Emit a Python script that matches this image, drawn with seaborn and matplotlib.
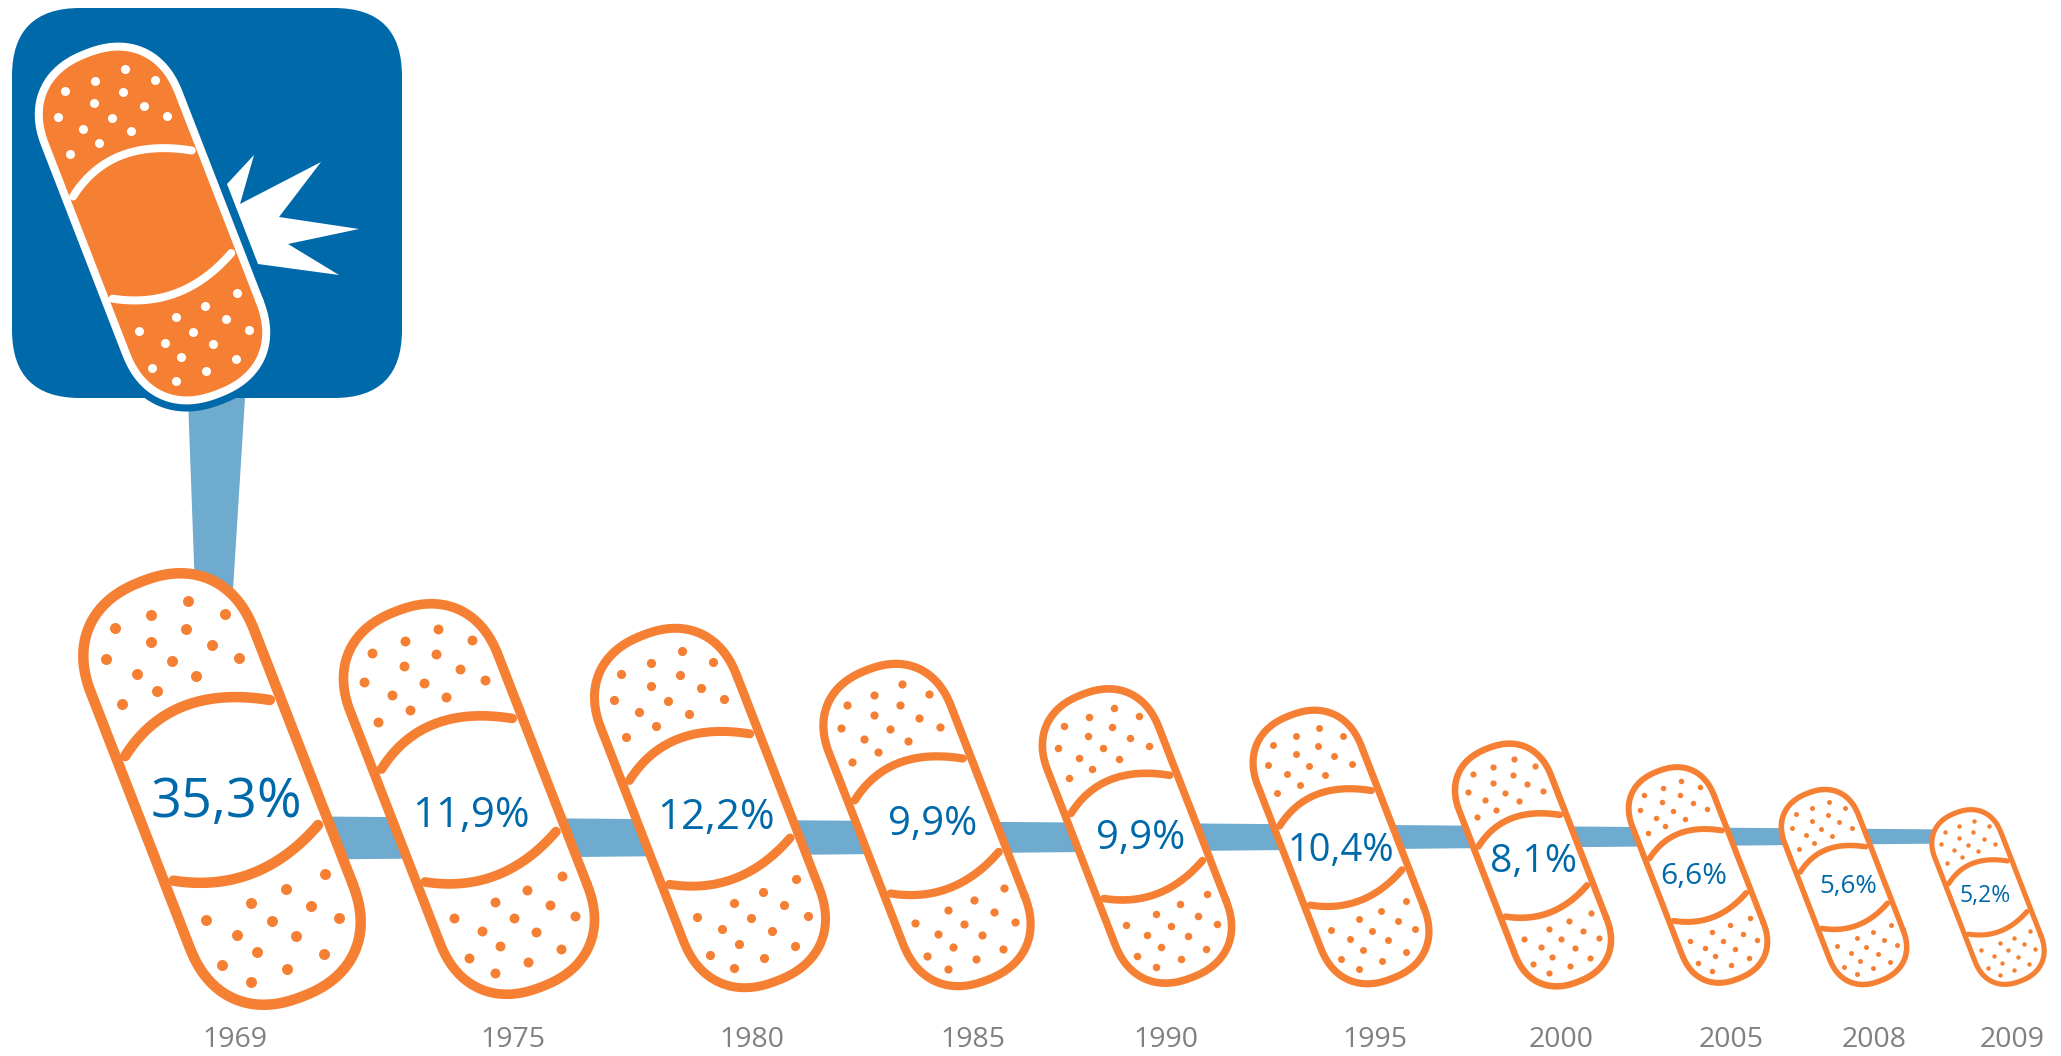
import numpy as np
import pandas as pd
import seaborn as sns
import matplotlib.pyplot as plt
from matplotlib.patches import FancyBboxPatch

# data
years = [1969, 1975, 1980, 1985, 1990, 1995, 2000, 2005, 2008, 2009]
values = [35.3, 11.9, 12.2, 9.9, 9.9, 10.4, 8.1, 6.6, 5.6, 5.2]

# layout, px on the 2061x1056 canvas
center_x = [222, 469, 710, 927, 1137, 1341, 1533, 1698, 1844, 1988]
center_y = [789, 799, 808, 825, 836, 847, 865, 875, 887, 897]
scale = [1.0, 0.905, 0.833, 0.747, 0.682, 0.634, 0.5625, 0.5, 0.452, 0.405]
value_x = [226, 471, 716, 933, 1141, 1341, 1534, 1694, 1848, 1985]
value_y = [802, 816, 818, 825, 839, 851, 862, 876, 887, 896]
value_px = [54, 42, 42, 40, 40, 38, 39, 30, 26, 23]
year_x = [235, 513, 752, 973, 1166, 1375, 1561, 1731, 1874, 2012]
year_y = 1040

ORANGE = '#F58033'
BLUE = '#0069AA'
BAND = '#6FAACF'
GREY = '#808080'

# bandage template, px relative to the middle of the 1969 one
zoom_dots_x = [361, 258, 465, 156, 354, 256, 427, 132, 316, 504, 218, 384, 273, 175,
               745, 634, 536, 706, 411, 595, 784, 497, 664, 553, 741, 455, 638, 536]
zoom_dots_y = [152, 194, 191, 234, 237, 277, 286, 328, 332, 323, 372, 378, 423, 463,
               972, 1018, 1058, 1068, 1110, 1113, 1105, 1154, 1159, 1205, 1213, 1245, 1256, 1295]
dots_x = (np.array(zoom_dots_x) - 456) / 2.8
dots_y = (np.array(zoom_dots_y) - 717) / 3
arc_up = np.array([[185, 618], [312, 402], [590, 450]], dtype=float)
arc_low = np.array([[320, 992], [558, 1032], [725, 825]], dtype=float)
TILT = np.radians(21.2)
LEN = 445
WID = 175


def outline():
    t = np.linspace(0, 2 * np.pi, 241)[:-1]
    n = 2.3
    c, s = np.cos(t), np.sin(t)
    v = WID / 2 * np.sign(c) * np.abs(c) ** (2 / n)
    u = WID / 2 * np.sign(s) * np.abs(s) ** (2 / n) + np.where(s >= 0, 1, -1) * (LEN - WID) / 2
    u, v = np.append(u, u[0]), np.append(v, v[0])
    return u * np.sin(TILT) + v * np.cos(TILT), u * np.cos(TILT) - v * np.sin(TILT)


def arc(ctrl):
    t = np.linspace(0, 1, 40)[:, None]
    p = (1 - t) ** 2 * ctrl[0] + 2 * t * (1 - t) * ctrl[1] + t ** 2 * ctrl[2]
    return (p[:, 0] - 456) / 2.8, (p[:, 1] - 717) / 3


def bandage(ax, cx, cy, k, line_c, fill_c, lw_px, z):
    ox, oy = outline()
    ax.fill(cx + k * ox, cy + k * oy, color=fill_c, lw=0, zorder=z)
    lw = lw_px * 0.72
    line = pd.DataFrame({'x': cx + k * ox, 'y': cy + k * oy})
    sns.lineplot(data=line, x='x', y='y', sort=False, estimator=None, color=line_c,
                 linewidth=lw, legend=False, ax=ax, zorder=z + 1)
    for ctrl in (arc_up, arc_low):
        ax_, ay_ = arc(ctrl)
        part = pd.DataFrame({'x': cx + k * ax_, 'y': cy + k * ay_})
        sns.lineplot(data=part, x='x', y='y', sort=False, estimator=None, color=line_c,
                     linewidth=lw, legend=False, ax=ax, zorder=z + 1,
                     solid_capstyle='round')
    pts = pd.DataFrame({'x': cx + k * dots_x, 'y': cy + k * dots_y})
    sns.scatterplot(data=pts, x='x', y='y', color=line_c, s=(11 * 0.72 * k) ** 2,
                    linewidth=0, legend=False, ax=ax, zorder=z + 1)


sns.set_theme(style='white')
plt.rcParams['font.family'] = ['Open Sans', 'DejaVu Sans']

fig = plt.figure(figsize=(20.61, 10.56), dpi=100)
ax = fig.add_axes([0, 0, 1, 1])

# connector bands
ax.fill([188, 245, 233, 195], [398, 398, 590, 590], color=BAND, lw=0, zorder=1)
band_x = np.array([320, 1950])
ax.fill_between(band_x, [816, 829], [859, 843], color=BAND, lw=0, zorder=1)

# bandages
for i in range(len(years)):
    k = scale[i]
    bandage(ax, center_x[i], center_y[i], k, ORANGE, 'white', 1.5 + 9 * k, 3)
    label = f'{values[i]:.1f}'.replace('.', ',') + '%'
    ax.text(value_x[i], value_y[i], label, color=BLUE, fontsize=value_px[i] * 0.72,
            ha='center', va='center', zorder=6)
    ax.text(year_x[i], year_y, str(years[i]), color=GREY, fontsize=20.5,
            ha='center', va='center', zorder=6)

# icon
box = FancyBboxPatch((12 + 68, 8 + 68), 390 - 136, 390 - 136, boxstyle='round,pad=68,rounding_size=68',
                     fc=BLUE, ec='none', zorder=8)
ax.add_patch(box)
burst_x = [227, 254, 240, 321, 279, 359, 288, 339, 258]
burst_y = [184, 155, 204, 162, 217, 229, 244, 275, 264]
ax.fill(burst_x, burst_y, color='white', lw=0, zorder=9)
ox, oy = outline()
ax.fill(152.5 + 0.82 * ox, 223.5 + 0.82 * oy, color=BLUE, ec=BLUE, lw=16, zorder=10)
bandage(ax, 152.5, 223.5, 0.82, 'white', ORANGE, 8, 11)

ax.set_xlim(0, 2061)
ax.set_ylim(1056, 0)
ax.set_axis_off()

fig.savefig('out.png', dpi=100, facecolor='white')
